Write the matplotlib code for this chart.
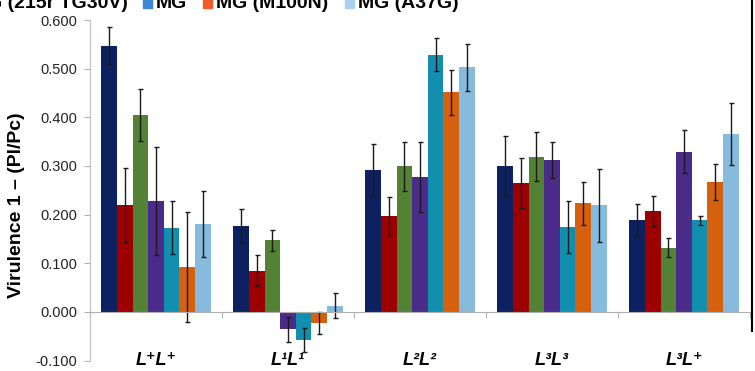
import numpy as np
import matplotlib.pyplot as plt
from matplotlib.patches import Rectangle

plt.rcParams['font.family'] = ['Liberation Sans', 'DejaVu Sans']
plt.rcParams['axes.unicode_minus'] = False

# data
categories = ['L⁺L⁺', 'L¹L¹', 'L²L²', 'L³L³', 'L³L⁺']
series = ['S1', 'S2', 'S3', 'MG (215r TG30V)', 'MG', 'MG (M100N)', 'MG (A37G)']
colors = ['#0d2160', '#9c0000', '#538234', '#4b2b8a', '#128fae', '#d5610f', '#86bbdd']
legend_colors = ['#4b2b8a', '#3d86d3', '#f05a28', '#a9d1ef']

values = [
    [0.547, 0.177, 0.292, 0.300, 0.188],
    [0.220, 0.085, 0.197, 0.265, 0.207],
    [0.405, 0.147, 0.299, 0.319, 0.132],
    [0.227, -0.036, 0.277, 0.313, 0.329],
    [0.173, -0.058, 0.529, 0.174, 0.188],
    [0.092, -0.023, 0.451, 0.223, 0.266],
    [0.181, 0.013, 0.503, 0.219, 0.366],
]
errors = [
    [0.038, 0.035, 0.053, 0.061, 0.033],
    [0.076, 0.032, 0.039, 0.051, 0.031],
    [0.053, 0.021, 0.050, 0.051, 0.019],
    [0.111, 0.025, 0.072, 0.037, 0.044],
    [0.054, 0.025, 0.034, 0.053, 0.010],
    [0.113, 0.022, 0.047, 0.044, 0.037],
    [0.068, 0.025, 0.048, 0.075, 0.064],
]

W, H = 755, 371
fig = plt.figure(figsize=(W / 100, H / 100), dpi=100)
ax = fig.add_axes([90 / W, 10.5 / H, 660 / W, 340.5 / H])

x = np.arange(len(categories))
n = len(series)
bw = 0.826 / n
for i in range(n):
    ax.bar(x - 0.413 + bw * (i + 0.5), values[i], bw, color=colors[i],
           yerr=errors[i], capsize=1.8,
           error_kw=dict(elinewidth=1, ecolor='#1a1a1a', capthick=1))

ax.set_xlim(-0.5, len(categories) - 0.5)
ax.set_ylim(-0.1, 0.6)
ax.set_yticks(np.arange(-0.1, 0.61, 0.1))
ax.set_yticklabels(['%.3f' % v for v in np.arange(-0.1, 0.61, 0.1)])
ax.set_xticks(np.arange(-0.5, len(categories), 1.0))
ax.set_xticklabels([])

for s in ['top', 'right']:
    ax.spines[s].set_visible(False)
ax.spines['bottom'].set_position(('data', 0))
ax.spines['bottom'].set_color('#b0b0b0')
ax.spines['left'].set_color('#c0c0c0')
ax.tick_params(axis='y', direction='out', length=4, color='#b0b0b0',
               labelsize=10.5, labelcolor='#222222', pad=5)
ax.tick_params(axis='x', direction='out', length=4, color='#b0b0b0')

for i, c in enumerate(categories):
    ax.text(i, -0.1, c, ha='center', va='center', fontsize=13,
            fontweight='bold', style='italic', clip_on=False)

ax.set_ylabel('Virulence 1 – (Pl/Pc)', fontsize=14, fontweight='bold')
ax.yaxis.set_label_coords(-0.098, 0.456)

# legend strip cut off at the top of the picture
leg_y = (H - 8) / H
fig.text(128 / W, leg_y, series[3], ha='right', va='baseline',
         fontsize=14, fontweight='bold')
for lx, name, col in [(143, series[4], legend_colors[1]),
                      (203, series[5], legend_colors[2]),
                      (345, series[6], legend_colors[3])]:
    fig.patches.append(Rectangle((lx / W, (H - 8) / H), 9 / W, 10 / H,
                                 transform=fig.transFigure, color=col))
    fig.text((lx + 13) / W, leg_y, name, ha='left', va='baseline',
             fontsize=14, fontweight='bold')

# right border line
fig.add_artist(plt.Line2D([752 / W, 752 / W], [40 / H, 1], color='black', lw=1.5))

fig.savefig('out.png', dpi=100)
